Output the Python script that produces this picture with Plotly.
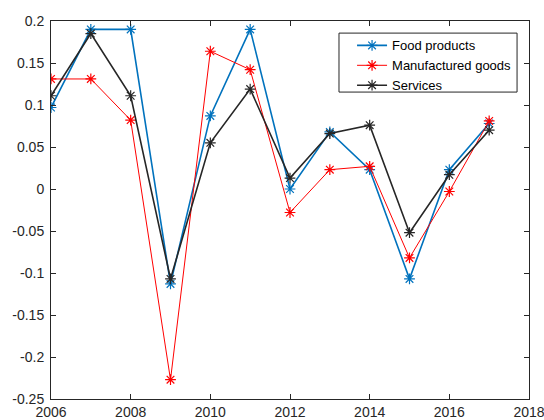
import plotly.graph_objects as go

years = list(range(2006, 2018))
food = [0.097, 0.190, 0.190, -0.113, 0.087, 0.190, 0.000, 0.068, 0.023, -0.107, 0.023, 0.078]
manuf = [0.131, 0.131, 0.082, -0.227, 0.164, 0.142, -0.028, 0.023, 0.027, -0.082, -0.003, 0.081]
services = [0.111, 0.185, 0.111, -0.107, 0.055, 0.119, 0.013, 0.066, 0.076, -0.052, 0.017, 0.070]

x_ticks = [2006, 2008, 2010, 2012, 2014, 2016, 2018]
y_ticks = [-0.25, -0.2, -0.15, -0.1, -0.05, 0, 0.05, 0.1, 0.15, 0.2]
y_tick_text = ["-0.25", "-0.2", "-0.15", "-0.1", "-0.05", "0", "0.05", "0.1", "0.15", "0.2"]

fig = go.Figure()
series = [
    ("Food products", food, "#0072BD", 1.6),
    ("Manufactured goods", manuf, "#FF0000", 1.0),
    ("Services", services, "#262626", 1.6),
]
for name, vals, color, lw in series:
    fig.add_trace(go.Scatter(
        x=years, y=vals, name=name, mode="lines+markers",
        line=dict(color=color, width=lw),
        marker=dict(symbol="asterisk-open", size=9, color=color,
                    line=dict(color=color, width=1.2)),
    ))

axis_common = dict(
    showgrid=False, zeroline=False, showline=True, linecolor="#262626", linewidth=1,
    mirror="ticks", ticks="inside", ticklen=5, tickcolor="#262626", automargin=False,
    ticklabeloverflow="allow",
    tickfont=dict(family="Liberation Sans, Arial, sans-serif", size=14, color="#262626"),
)
fig.update_xaxes(range=[2006, 2018], tickvals=x_ticks, **axis_common)
fig.update_yaxes(range=[-0.25, 0.2], tickvals=y_ticks, ticktext=y_tick_text,
                 ticklabelstandoff=3, **axis_common)

# legend frame
fig.add_shape(type="rect", xref="paper", yref="paper",
              x0=0.6025, x1=0.975, y0=0.812, y1=0.968,
              line=dict(color="#262626", width=1), fillcolor="white", layer="below")

fig.update_layout(
    width=544, height=420,
    margin=dict(l=51, r=15, t=21, b=21),
    paper_bgcolor="white", plot_bgcolor="white",
    font=dict(family="Liberation Sans, Arial, sans-serif", size=13, color="#000000"),
    legend=dict(x=0.975, y=0.975, xanchor="right", yanchor="top",
                bgcolor="rgba(0,0,0,0)", borderwidth=0,
                font=dict(size=13), tracegroupgap=0),
)
fig.write_html("out.html", post_script="document.body.style.margin='0';",
               config={"displayModeBar": False})
